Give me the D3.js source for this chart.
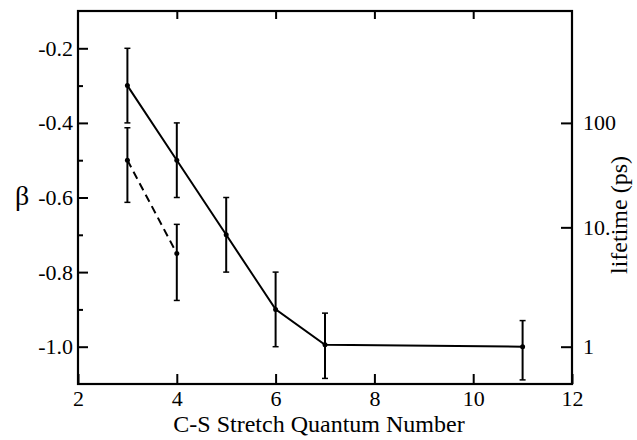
<!DOCTYPE html>
<html>
<head>
<meta charset="utf-8">
<script src="https://cdn.jsdelivr.net/npm/d3@7"></script>
<style>
  html, body { margin: 0; padding: 0; background: #fff; }
  svg { display: block; }
  svg text { font-family: "Liberation Serif", "Tinos", "Times New Roman", "Nimbus Roman", "DejaVu Serif", serif !important; fill: #000; }
</style>
</head>
<body>
<svg id="chart" width="637" height="440"></svg>
<script>
// ---- data ----
const solidX     = [3, 4, 5, 6, 7, 11];
const solidBeta  = [-0.30, -0.50, -0.70, -0.90, -0.995, -1.00];
const solidUpper = [-0.20, -0.40, -0.60, -0.80, -0.91, -0.93];
const solidLower = [-0.40, -0.60, -0.80, -1.00, -1.085, -1.089];

const dashX     = [3, 4];
const dashBeta  = [-0.50, -0.75];
const dashUpper = [-0.413, -0.672];
const dashLower = [-0.613, -0.876];

const xTicks = [2, 4, 6, 8, 10, 12];
const yMajorTicks = [-0.2, -0.4, -0.6, -0.8, -1.0];
const yMinorTicks = [-0.3, -0.5, -0.7, -0.9];
const lifetimeTicks = [1, 10, 100];
const lifetimeLabels = ["1", "10.", "100"];
const lifetimeBetaAnchors = [-1.0, -0.68, -0.4];

// ---- layout ----
const L = 78, R = 572, T = 11, B = 384;
const SERIF = "'Liberation Serif', Tinos, 'Times New Roman', 'Nimbus Roman', 'DejaVu Serif', serif";
const svg = d3.select("#chart");

const x = d3.scaleLinear().domain([2, 12]).range([L, R]);
const y = d3.scaleLinear().domain([-1.1, -0.1]).range([B, T]);
const yLife = d3.scaleLog().domain(lifetimeTicks).range(lifetimeBetaAnchors.map(y));

const fontTick = "22px";

// bottom axis
const gB = svg.append("g").attr("transform", `translate(0,${B})`)
  .call(d3.axisBottom(x).tickValues(xTicks).tickFormat(d3.format("d"))
    .tickSizeInner(-10).tickSizeOuter(0).tickPadding(6));
// top axis
const gT = svg.append("g").attr("transform", `translate(0,${T})`)
  .call(d3.axisTop(x).tickValues(xTicks.slice(1, -1)).tickFormat("")
    .tickSizeInner(-8).tickSizeOuter(0));
// left axis
const gL = svg.append("g").attr("transform", `translate(${L},0)`)
  .call(d3.axisLeft(y).tickValues(yMajorTicks).tickFormat(d => d3.format(".1f")(d).replace("−", "-"))
    .tickSizeInner(-10).tickSizeOuter(0).tickPadding(5));
const gLm = svg.append("g").attr("transform", `translate(${L},0)`)
  .call(d3.axisLeft(y).tickValues(yMinorTicks).tickFormat("")
    .tickSizeInner(-5).tickSizeOuter(0));
// right axis
const gR = svg.append("g").attr("transform", `translate(${R},0)`)
  .call(d3.axisRight(yLife).tickValues(lifetimeTicks)
    .tickFormat((d, i) => lifetimeLabels[i])
    .tickSizeInner(-11).tickSizeOuter(0).tickPadding(11));

[gB, gT, gL, gLm, gR].forEach(g => {
  g.attr("font-family", SERIF).attr("font-size", fontTick);
  g.selectAll(".domain").remove();
  g.selectAll(".tick line").attr("stroke", "#000").attr("stroke-width", 2);
  g.selectAll(".tick text").attr("font-size", fontTick)
    .attr("font-family", SERIF).attr("fill", "#000");
});

// frame
svg.append("rect").attr("x", L).attr("y", T).attr("width", R - L).attr("height", B - T)
  .attr("fill", "none").attr("stroke", "#000").attr("stroke-width", 2.2);

// labels
svg.append("text").attr("x", (L + R) / 2 - 6).attr("y", 432).attr("text-anchor", "middle")
  .attr("font-family", SERIF).attr("font-size", "24px").text("C-S Stretch Quantum Number");
svg.append("text").attr("x", 22).attr("y", 205).attr("text-anchor", "middle")
  .attr("font-family", SERIF).attr("font-size", "28px").text("β");
svg.append("text").attr("transform", "translate(627,215) rotate(-90)").attr("text-anchor", "middle")
  .attr("font-family", SERIF).attr("font-size", "24px").text("lifetime (ps)");

// series
function drawSeries(xs, ys, up, lo, dash) {
  const pts = xs.map((d, i) => ({ x: d, b: ys[i], u: up[i], l: lo[i] }));
  const line = d3.line().x(d => x(d.x)).y(d => y(d.b));
  svg.append("path").datum(pts).attr("d", line).attr("fill", "none")
    .attr("stroke", "#000").attr("stroke-width", 2)
    .attr("stroke-dasharray", dash ? "8,5" : null);
  const eb = svg.append("g");
  pts.forEach(d => {
    eb.append("line").attr("x1", x(d.x)).attr("x2", x(d.x)).attr("y1", y(d.u)).attr("y2", y(d.l))
      .attr("stroke", "#000").attr("stroke-width", 2);
    [d.u, d.l].forEach(v => eb.append("line").attr("x1", x(d.x) - 3).attr("x2", x(d.x) + 3)
      .attr("y1", y(v)).attr("y2", y(v)).attr("stroke", "#000").attr("stroke-width", 1.5));
    eb.append("circle").attr("cx", x(d.x)).attr("cy", y(d.b)).attr("r", 2.5).attr("fill", "#000");
  });
}
drawSeries(solidX, solidBeta, solidUpper, solidLower, false);
drawSeries(dashX, dashBeta, dashUpper, dashLower, true);
</script>
</body>
</html>
